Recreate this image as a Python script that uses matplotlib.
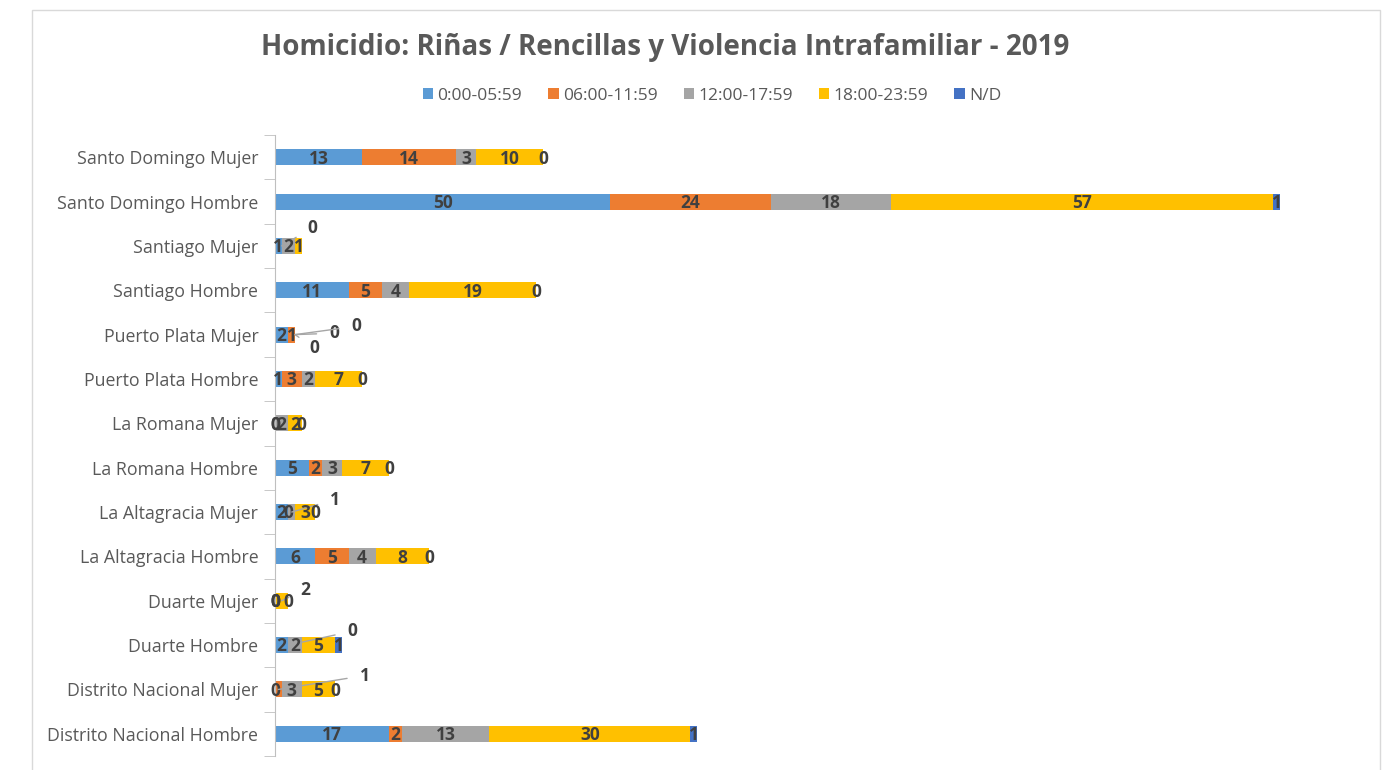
import numpy as np
import matplotlib.pyplot as plt
from matplotlib.patches import Rectangle

plt.rcParams['font.family'] = ['Open Sans', 'DejaVu Sans']

# categories from bottom to top
categories = ['Distrito Nacional Hombre', 'Distrito Nacional Mujer',
              'Duarte Hombre', 'Duarte Mujer',
              'La Altagracia Hombre', 'La Altagracia Mujer',
              'La Romana Hombre', 'La Romana Mujer',
              'Puerto Plata Hombre', 'Puerto Plata Mujer',
              'Santiago Hombre', 'Santiago Mujer',
              'Santo Domingo Hombre', 'Santo Domingo Mujer']

series_names = ['0:00-05:59', '06:00-11:59', '12:00-17:59', '18:00-23:59', 'N/D']
colors = ['#5B9BD5', '#ED7D31', '#A5A5A5', '#FFC000', '#4472C4']

madrugada = [17, 0, 2, 0, 6, 2, 5, 0, 1, 2, 11, 1, 50, 13]
manana = [2, 1, 0, 0, 5, 0, 2, 0, 3, 1, 5, 0, 24, 14]
tarde = [13, 3, 2, 0, 4, 1, 3, 2, 2, 0, 4, 2, 18, 3]
noche = [30, 5, 5, 2, 8, 3, 7, 2, 7, 0, 19, 1, 57, 10]
nd = [1, 0, 1, 0, 0, 0, 0, 0, 0, 0, 0, np.nan, 1, 0]  # empty cell -> no label

data = np.array([madrugada, manana, tarde, noche, nd], dtype=float)

# labels that were dragged away from their bar, with a leader line (offset in points)
moved = {
    (11, 1): (22, 13),
    (9, 2): (14, -10),
    (9, 3): (28, 1),
    (9, 4): (44, 6),
    (5, 2): (31, 9),
    (3, 3): (17, 8),
    (2, 1): (46, 10),
    (1, 1): (62, 10),
}

label_style = dict(fontsize=12.5, fontweight='bold', color='#404040')

fig = plt.figure(figsize=(13.88, 7.7), dpi=100)
fig.patches.append(Rectangle((32 / 1388, -0.01), 1348 / 1388, 1 - 10 / 770 + 0.01,
                             transform=fig.transFigure, fill=False,
                             edgecolor='#D9D9D9', linewidth=1))

ax = fig.add_axes([275 / 1388, 14 / 770, 1072 / 1388, 621 / 770])
y = np.arange(len(categories))
left = np.zeros(len(categories))
for i, name in enumerate(series_names):
    vals = np.nan_to_num(data[i])
    ax.barh(y, vals, left=left, height=0.36, color=colors[i], label=name)
    for j in range(len(categories)):
        if np.isnan(data[i, j]):
            continue
        xc = left[j] + vals[j] / 2
        txt = '%d' % vals[j]
        if (j, i) in moved:
            ax.annotate(txt, xy=(xc, y[j]), xytext=moved[(j, i)],
                        textcoords='offset points', ha='center', va='center',
                        arrowprops=dict(arrowstyle='-', color='#A6A6A6', lw=1,
                                        shrinkA=7, shrinkB=0),
                        **label_style)
        else:
            ax.text(xc, y[j] - 0.03, txt, ha='center', va='center', **label_style)
    left += vals

ax.set_xlim(0, 160)
ax.set_ylim(-0.5, len(categories) - 0.5)
ax.set_yticks(y)
ax.set_yticklabels(categories, fontsize=12.8, color='#595959')
ax.set_yticks(np.arange(-0.5, len(categories), 1), minor=True)
ax.tick_params(axis='y', which='major', length=0, pad=12)
ax.tick_params(axis='y', which='minor', length=8, color='#BFBFBF')
ax.set_xticks([])
for s in ['top', 'right', 'bottom']:
    ax.spines[s].set_visible(False)
ax.spines['left'].set_color('#BFBFBF')

fig.text(665 / 1388, 1 - 47 / 770, 'Homicidio: Riñas / Rencillas y Violencia Intrafamiliar - 2019',
         ha='center', va='center', fontsize=20, fontweight='bold', color='#595959')
fig.legend(loc='center', bbox_to_anchor=(712 / 1388, 1 - 96 / 770), ncol=5, frameon=False,
           fontsize=12.5, labelcolor='#595959', handlelength=0.6, handleheight=0.6,
           handletextpad=0.25, columnspacing=1.5)

fig.savefig('out.png', dpi=100)
